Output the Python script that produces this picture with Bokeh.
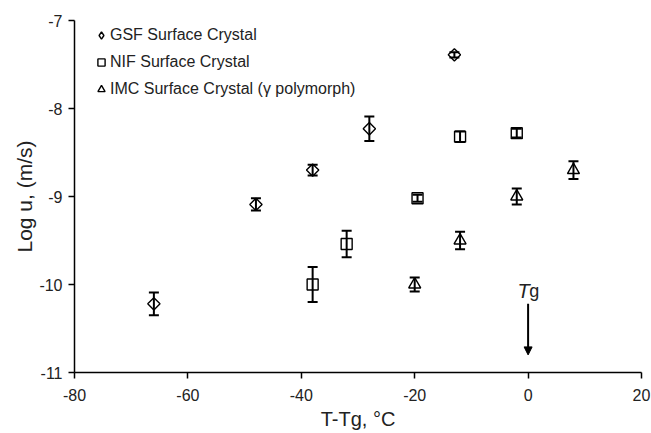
import numpy as np
from bokeh.plotting import figure
from bokeh.models import (ColumnDataSource, Whisker, TeeHead, Range1d, FixedTicker,
                          Label, Arrow, NormalHead, Legend, LegendItem,
                          CustomJSTickFormatter)
from bokeh.embed import file_html
from bokeh.resources import INLINE

# ---- data ----
gsf_x = [-66, -48, -38, -28, -13]
gsf_y = [-10.22, -9.09, -8.70, -8.23, -7.39]
gsf_err = [0.13, 0.07, 0.06, 0.14, 0.03]

nif_x = [-38, -32, -19.5, -12, -2]
nif_y = [-10.00, -9.54, -9.02, -8.32, -8.28]
nif_err = [0.20, 0.15, 0.04, 0.06, 0.05]

imc_x = [-20, -12, -2, 8]
imc_y = [-10.00, -9.50, -9.00, -8.70]
imc_err = [0.08, 0.10, 0.09, 0.10]

series_names = ["GSF Surface Crystal", "NIF Surface Crystal",
                "IMC Surface Crystal (\u03b3 polymorph)"]
x_ticks = [-80, -60, -40, -20, 0, 20]
y_ticks = [-11, -10, -9, -8, -7]
x_title = "T-Tg, \u00b0C"
y_title = "Log u, (m/s)"

FONT = "Liberation Sans"

p = figure(width=651, height=433, output_backend="svg", toolbar_location=None,
           x_range=Range1d(-80, 20), y_range=Range1d(-11, -7))
p.min_border_left = 74
p.min_border_right = 10
p.min_border_top = 20
p.min_border_bottom = 61
p.outline_line_color = None
p.xgrid.grid_line_color = None
p.ygrid.grid_line_color = None
p.background_fill_color = "white"
p.border_fill_color = "white"

for ax in (p.xaxis[0], p.yaxis[0]):
    ax.axis_line_color = "black"
    ax.axis_line_width = 1.5
    ax.major_tick_line_color = "black"
    ax.major_tick_line_width = 1.5
    ax.major_tick_in = 0
    ax.major_tick_out = 6
    ax.minor_tick_line_color = None
    ax.major_label_text_font = FONT
    ax.major_label_text_font_size = "16px"
    ax.major_label_text_color = "#222222"
    ax.axis_label_text_font = FONT
    ax.axis_label_text_font_style = "normal"
    ax.axis_label_text_color = "#222222"
    ax.formatter = CustomJSTickFormatter(code="return String(tick);")
p.xaxis[0].ticker = FixedTicker(ticks=x_ticks)
p.yaxis[0].ticker = FixedTicker(ticks=y_ticks)
p.xaxis[0].major_label_standoff = 10
p.yaxis[0].major_label_standoff = 6
p.xaxis[0].axis_label = x_title
p.yaxis[0].axis_label = y_title
p.xaxis[0].axis_label_text_font_size = "20px"
p.yaxis[0].axis_label_text_font_size = "21px"
p.xaxis[0].axis_label_standoff = 4
p.yaxis[0].axis_label_standoff = 0


def add_series(xs, ys, errs, marker, size, angle):
    src = ColumnDataSource(dict(x=xs, y=ys,
                                lower=[a - e for a, e in zip(ys, errs)],
                                upper=[a + e for a, e in zip(ys, errs)]))
    w = Whisker(source=src, base="x", lower="lower", upper="upper",
                line_color="black", line_width=2, level="overlay",
                upper_head=TeeHead(size=10, line_width=2, line_color="black"),
                lower_head=TeeHead(size=10, line_width=2, line_color="black"))
    p.add_layout(w)
    r = p.scatter("x", "y", source=src, marker=marker, size=size, angle=angle,
                  fill_color=None, line_color="black", line_width=1.4)
    return r, src


r1, src1 = add_series(gsf_x, gsf_y, gsf_err, "square", 8.7, np.pi / 4)
r2, _ = add_series(nif_x, nif_y, nif_err, "square", 11, 0)
r3, _ = add_series(imc_x, imc_y, imc_err, "triangle", 12, 0)
# hidden proxy so the legend shows a diamond (legend glyphs ignore rotation)
r1_leg = p.scatter("x", "y", source=src1, marker="diamond", size=12,
                   fill_color=None, line_color="black", line_width=1.4,
                   visible=False)

legend = Legend(items=[LegendItem(label=series_names[0], renderers=[r1_leg]),
                       LegendItem(label=series_names[1], renderers=[r2]),
                       LegendItem(label=series_names[2], renderers=[r3])],
                location=(18, 273), margin=0, padding=4, spacing=7,
                glyph_width=18, glyph_height=20, label_height=20,
                label_standoff=0, border_line_color=None,
                background_fill_alpha=0, inactive_fill_alpha=0,
                label_text_font=FONT, label_text_font_size="16px",
                label_text_color="#222222")
p.add_layout(legend)


def lab(text, px, py, size, style="normal"):
    p.add_layout(Label(x=px, y=py, x_units="canvas", y_units="canvas",
                       text=text, text_font=FONT, text_font_size=f"{size}px",
                       text_font_style=style, text_color="#222222",
                       text_align="left", text_baseline="alphabetic"))


# Tg annotation
lab("T", 517, 290, 20, "italic")
lab("g", 528.8, 290, 18)
p.add_layout(Arrow(x_start=0, y_start=-10.22, x_end=0, y_end=-10.8,
                   line_width=2, line_color="black",
                   end=NormalHead(size=8, fill_color="black", line_color="black")))

open("out.html", "w").write(file_html(p, INLINE))
